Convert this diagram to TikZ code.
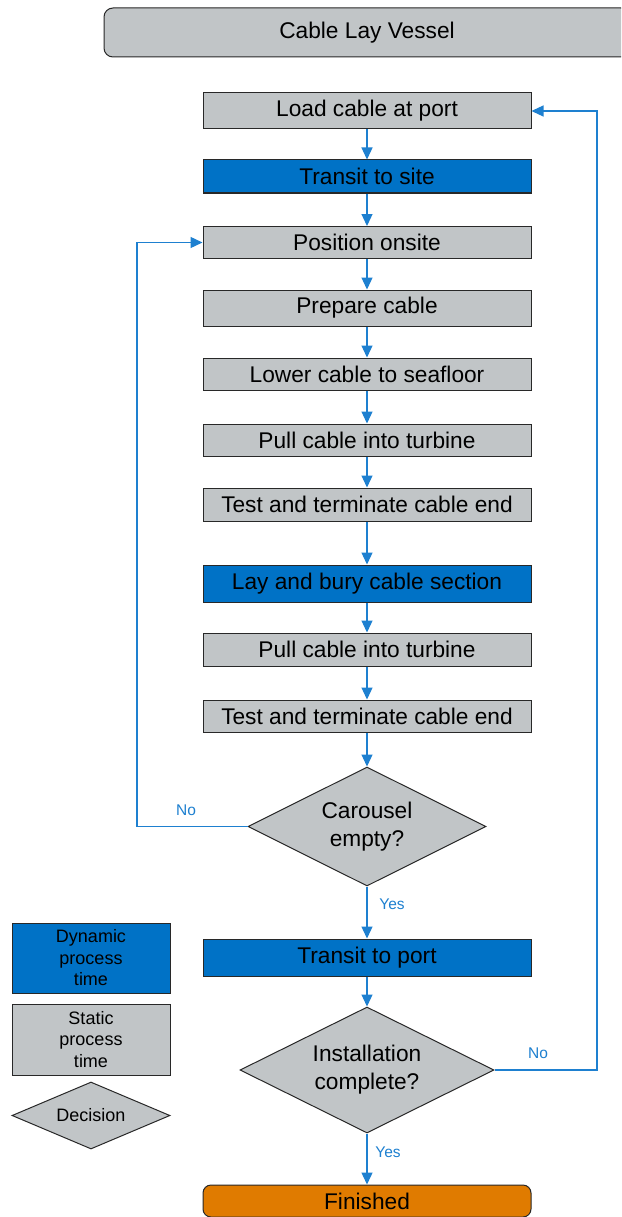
\documentclass[tikz,border=0pt]{standalone}
\usepackage{fontspec}
\setmainfont{Liberation Sans}
\usetikzlibrary{shapes.geometric,arrows.meta}
\definecolor{boxgrey}{RGB}{193,197,199}
\definecolor{dynblue}{RGB}{0,114,198}
\definecolor{connblue}{RGB}{30,128,208}
\definecolor{finorange}{RGB}{224,123,0}
\definecolor{edgegrey}{RGB}{40,40,40}
\tikzset{
  proc/.style={draw=edgegrey, line width=1pt, fill=boxgrey, minimum width=328pt, inner sep=0pt, font=\fontsize{22.7}{27}\selectfont, text=black},
  dyn/.style={proc, fill=dynblue},
  dec/.style={draw=edgegrey, line width=1pt, fill=boxgrey, shape=diamond, inner sep=0pt, align=center, font=\fontsize{22.7}{28}\selectfont},
  conn/.style={draw=connblue, line width=1.3pt, -{Triangle[length=12pt,width=11pt]}},
  lbl/.style={text=connblue, font=\fontsize{15.5}{18}\selectfont, inner sep=0pt},
  leg/.style={draw=edgegrey, line width=1pt, minimum width=158pt, inner sep=0pt, align=center, font=\fontsize{18}{21.5}\selectfont},
}
\begin{document}
\begin{tikzpicture}[x=1pt,y=-1pt]
\clip (0,0) rectangle (621,1217);
\fill[white] (0,0) rectangle (621,1217);
% header
\node[proc, rounded corners=9pt, minimum width=526pt, minimum height=49pt] (hdr) at (367,32.5) {Cable Lay Vessel};
% main column
\node[proc, minimum height=36pt] (load) at (367,111) {Load cable at port};
\node[dyn, minimum height=33pt] (tsite) at (367,176.5) {Transit to site};
\node[proc, minimum height=32pt] (pos) at (367,242.5) {Position onsite};
\node[proc, minimum height=36pt] (prep) at (367,308) {Prepare cable};
\node[proc, minimum height=32pt] (lower) at (367,374) {Lower cable to seafloor};
\node[proc, minimum height=32pt] (pullA) at (367,440) {Pull cable into turbine};
\node[proc, minimum height=33pt] (testA) at (367,504.5) {Test and terminate cable end};
\node[dyn, minimum height=37pt] (lay) at (367,583.5) {Lay and bury cable section};
\node[proc, minimum height=33pt] (pullB) at (367,649.5) {Pull cable into turbine};
\node[proc, minimum height=32pt] (testB) at (367,716) {Test and terminate cable end};
\node[dec, minimum width=238pt, minimum height=119pt, shape aspect=2] (car) at (367,826.5) {Carousel\\empty?};
\node[dyn, minimum height=37pt] (tport) at (367,957.5) {Transit to port};
\node[dec, minimum width=254pt, minimum height=126pt, shape aspect=2] (inst) at (367,1070) {Installation\\complete?};
\node[proc, fill=finorange, rounded corners=8pt, minimum height=32pt] (fin) at (367,1201) {Finished};
% straight connectors
\draw[conn] (load) -- (tsite);
\draw[conn] (tsite) -- (pos);
\draw[conn] (pos) -- (prep);
\draw[conn] (prep) -- (lower);
\draw[conn] (lower) -- (pullA);
\draw[conn] (pullA) -- (testA);
\draw[conn] (testA) -- (lay);
\draw[conn] (lay) -- (pullB);
\draw[conn] (pullB) -- (testB);
\draw[conn] (testB) -- (car);
\draw[conn] (car) -- (tport);
\draw[conn] (tport) -- (inst);
\draw[conn] (inst) -- (fin);
% loops
\coordinate (cl1) at (137,826.5);
\coordinate (cl2) at (137,242.5);
\draw[conn] (car.west) -- (cl1) -- (cl2) -- (pos.west);
\coordinate (cr1) at (597,1070);
\coordinate (cr2) at (597,111);
\draw[conn] (inst.east) -- (cr1) -- (cr2) -- (load.east);
% labels
\node[lbl] (noA) at (186,810) {No};
\node[lbl] (yesA) at (392,904) {Yes};
\node[lbl] (noB) at (538,1053) {No};
\node[lbl] (yesB) at (388,1152) {Yes};
% legend
\node[leg, fill=dynblue, minimum height=70pt] (lgdyn) at (91,958) {Dynamic\\process\\time};
\node[leg, fill=boxgrey, minimum height=71pt] (lgsta) at (91,1039.5) {Static\\process\\time};
\node[leg, fill=boxgrey, shape=diamond, minimum height=67pt, shape aspect=2.3] (lgdec) at (91,1115.5) {Decision};
\end{tikzpicture}
\end{document}
